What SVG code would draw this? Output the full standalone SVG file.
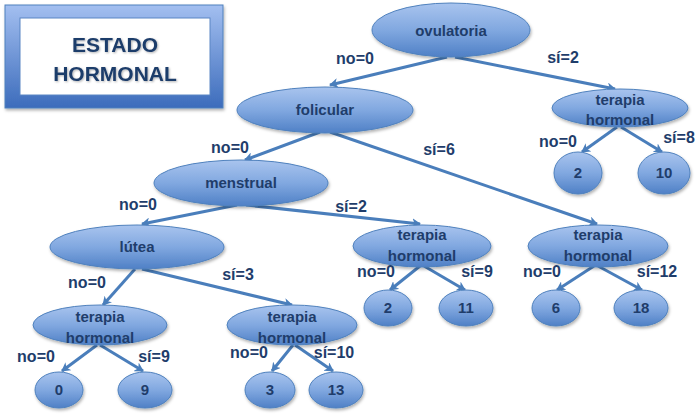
<svg xmlns="http://www.w3.org/2000/svg" width="700" height="418" viewBox="0 0 700 418">
<defs>
<linearGradient id="gNode" x1="0" y1="0" x2="0" y2="1">
<stop offset="0" stop-color="#a9c4ee"/>
<stop offset="0.5" stop-color="#81a8e0"/>
<stop offset="1" stop-color="#4f80c6"/>
</linearGradient>
<linearGradient id="gFrame" x1="0" y1="0" x2="0" y2="1">
<stop offset="0" stop-color="#a3bff0"/>
<stop offset="1" stop-color="#3c6cbc"/>
</linearGradient>
<filter id="sh" x="-20%" y="-20%" width="140%" height="150%">
<feDropShadow dx="1" dy="2" stdDeviation="1.5" flood-color="#000" flood-opacity="0.3"/>
</filter>
<filter id="tsh" x="-10%" y="-10%" width="120%" height="130%">
<feDropShadow dx="1" dy="1" stdDeviation="0.8" flood-color="#000" flood-opacity="0.3"/>
</filter>
<marker id="ah" markerWidth="10" markerHeight="10" refX="8" refY="5" orient="auto" markerUnits="userSpaceOnUse">
<path d="M0,0 L9,5 L0,10 L2.5,5 Z" fill="#4a7ebb"/>
</marker>
</defs>
<style>
.n ellipse{fill:url(#gNode);stroke:#4f81bd;stroke-width:1;filter:url(#sh)}
.t{font-family:"Liberation Sans",Arial,sans-serif;font-weight:bold;font-size:15px;fill:#1f3d6b;text-anchor:middle}
.l{font-family:"Liberation Sans",Arial,sans-serif;font-weight:bold;font-size:16px;fill:#1f3d6b;text-anchor:middle}
.c line{stroke:#4a7ebb;stroke-width:3;marker-end:url(#ah)}
</style>
<rect width="700" height="418" fill="#ffffff"/>

<g id="title">
<rect x="5" y="5" width="218" height="103" fill="url(#gFrame)" stroke="#4f81bd" filter="url(#sh)"/>
<rect x="20" y="18" width="190" height="77" fill="#ffffff" stroke="#5b86c4"/>
<text x="115" y="52" style="font-family:'Liberation Sans',Arial,sans-serif;font-weight:bold;font-size:21px;fill:#1f3d6b;text-anchor:middle" filter="url(#tsh)">ESTADO</text>
<text x="115" y="81" style="font-family:'Liberation Sans',Arial,sans-serif;font-weight:bold;font-size:21px;fill:#1f3d6b;text-anchor:middle" filter="url(#tsh)">HORMONAL</text>
</g>

<g id="connectors" class="c">
<line x1="447" y1="57" x2="330" y2="85"/>
<line x1="455" y1="57" x2="615" y2="89"/>
<line x1="320" y1="132" x2="245" y2="160"/>
<line x1="330" y1="132" x2="597" y2="224"/>
<line x1="237" y1="205" x2="142" y2="224"/>
<line x1="246" y1="205" x2="420" y2="224"/>
<line x1="135" y1="269" x2="103" y2="305"/>
<line x1="142" y1="269" x2="292" y2="305"/>
<line x1="97" y1="345" x2="62" y2="371"/>
<line x1="100" y1="345" x2="143" y2="371"/>
<line x1="293" y1="345" x2="272" y2="371"/>
<line x1="295" y1="345" x2="333" y2="371"/>
<line x1="420" y1="266" x2="390" y2="290"/>
<line x1="424" y1="266" x2="465" y2="290"/>
<line x1="594" y1="266" x2="557" y2="290"/>
<line x1="598" y1="266" x2="642" y2="290"/>
<line x1="617" y1="127" x2="582" y2="152"/>
<line x1="621" y1="127" x2="662" y2="152"/>
</g>

<g id="ovulatoria" class="n"><ellipse cx="451" cy="30" rx="79" ry="27"/><text class="t" x="451" y="36">ovulatoria</text></g>
<g id="folicular" class="n"><ellipse cx="325" cy="110" rx="88" ry="23"/><text class="t" x="325" y="115">folicular</text></g>
<g id="terapia1" class="n"><ellipse cx="620" cy="108" rx="68" ry="19"/><text class="t" x="620" y="105">terapia</text><text class="t" x="620" y="125">hormonal</text></g>
<g id="hoja2a" class="n"><ellipse cx="578" cy="173" rx="24" ry="21"/><text class="t" x="578" y="178">2</text></g>
<g id="hoja10" class="n"><ellipse cx="664" cy="173" rx="26" ry="21"/><text class="t" x="664" y="178">10</text></g>
<g id="menstrual" class="n"><ellipse cx="241" cy="183" rx="87" ry="23"/><text class="t" x="241" y="188">menstrual</text></g>
<g id="terapia2" class="n"><ellipse cx="422" cy="246" rx="69" ry="21"/><text class="t" x="422" y="240">terapia</text><text class="t" x="422" y="261">hormonal</text></g>
<g id="terapia3" class="n"><ellipse cx="598" cy="246" rx="70" ry="21"/><text class="t" x="598" y="240">terapia</text><text class="t" x="598" y="261">hormonal</text></g>
<g id="hoja2b" class="n"><ellipse cx="388" cy="308" rx="24" ry="18"/><text class="t" x="388" y="313">2</text></g>
<g id="hoja11" class="n"><ellipse cx="466" cy="308" rx="27" ry="18"/><text class="t" x="466" y="313">11</text></g>
<g id="hoja6" class="n"><ellipse cx="556" cy="308" rx="24" ry="18"/><text class="t" x="556" y="313">6</text></g>
<g id="hoja18" class="n"><ellipse cx="641" cy="308" rx="27" ry="18"/><text class="t" x="641" y="313">18</text></g>
<g id="lutea" class="n"><ellipse cx="137" cy="247" rx="87" ry="22"/><text class="t" x="137" y="252">lútea</text></g>
<g id="terapia4" class="n"><ellipse cx="100" cy="325" rx="67" ry="20"/><text class="t" x="100" y="322">terapia</text><text class="t" x="100" y="343">hormonal</text></g>
<g id="terapia5" class="n"><ellipse cx="292" cy="325" rx="65" ry="20"/><text class="t" x="292" y="322">terapia</text><text class="t" x="292" y="343">hormonal</text></g>
<g id="hoja0" class="n"><ellipse cx="59" cy="390" rx="24" ry="18"/><text class="t" x="59" y="395">0</text></g>
<g id="hoja9" class="n"><ellipse cx="145" cy="390" rx="27" ry="18"/><text class="t" x="145" y="395">9</text></g>
<g id="hoja3" class="n"><ellipse cx="270" cy="390" rx="25" ry="18"/><text class="t" x="270" y="395">3</text></g>
<g id="hoja13" class="n"><ellipse cx="336" cy="390" rx="27" ry="18"/><text class="t" x="336" y="395">13</text></g>

<g id="labels">
<text class="l" x="355" y="64">no=0</text>
<text class="l" x="563" y="63">sí=2</text>
<text class="l" x="230" y="153">no=0</text>
<text class="l" x="439" y="155">sí=6</text>
<text class="l" x="138" y="210">no=0</text>
<text class="l" x="351" y="212">sí=2</text>
<text class="l" x="87" y="288">no=0</text>
<text class="l" x="238" y="280">sí=3</text>
<text class="l" x="36" y="362">no=0</text>
<text class="l" x="154" y="362">sí=9</text>
<text class="l" x="249" y="358">no=0</text>
<text class="l" x="334" y="358">sí=10</text>
<text class="l" x="376" y="277">no=0</text>
<text class="l" x="477" y="277">sí=9</text>
<text class="l" x="542" y="277">no=0</text>
<text class="l" x="657" y="277">sí=12</text>
<text class="l" x="558" y="147">no=0</text>
<text class="l" x="679" y="143">sí=8</text>
</g>
</svg>
